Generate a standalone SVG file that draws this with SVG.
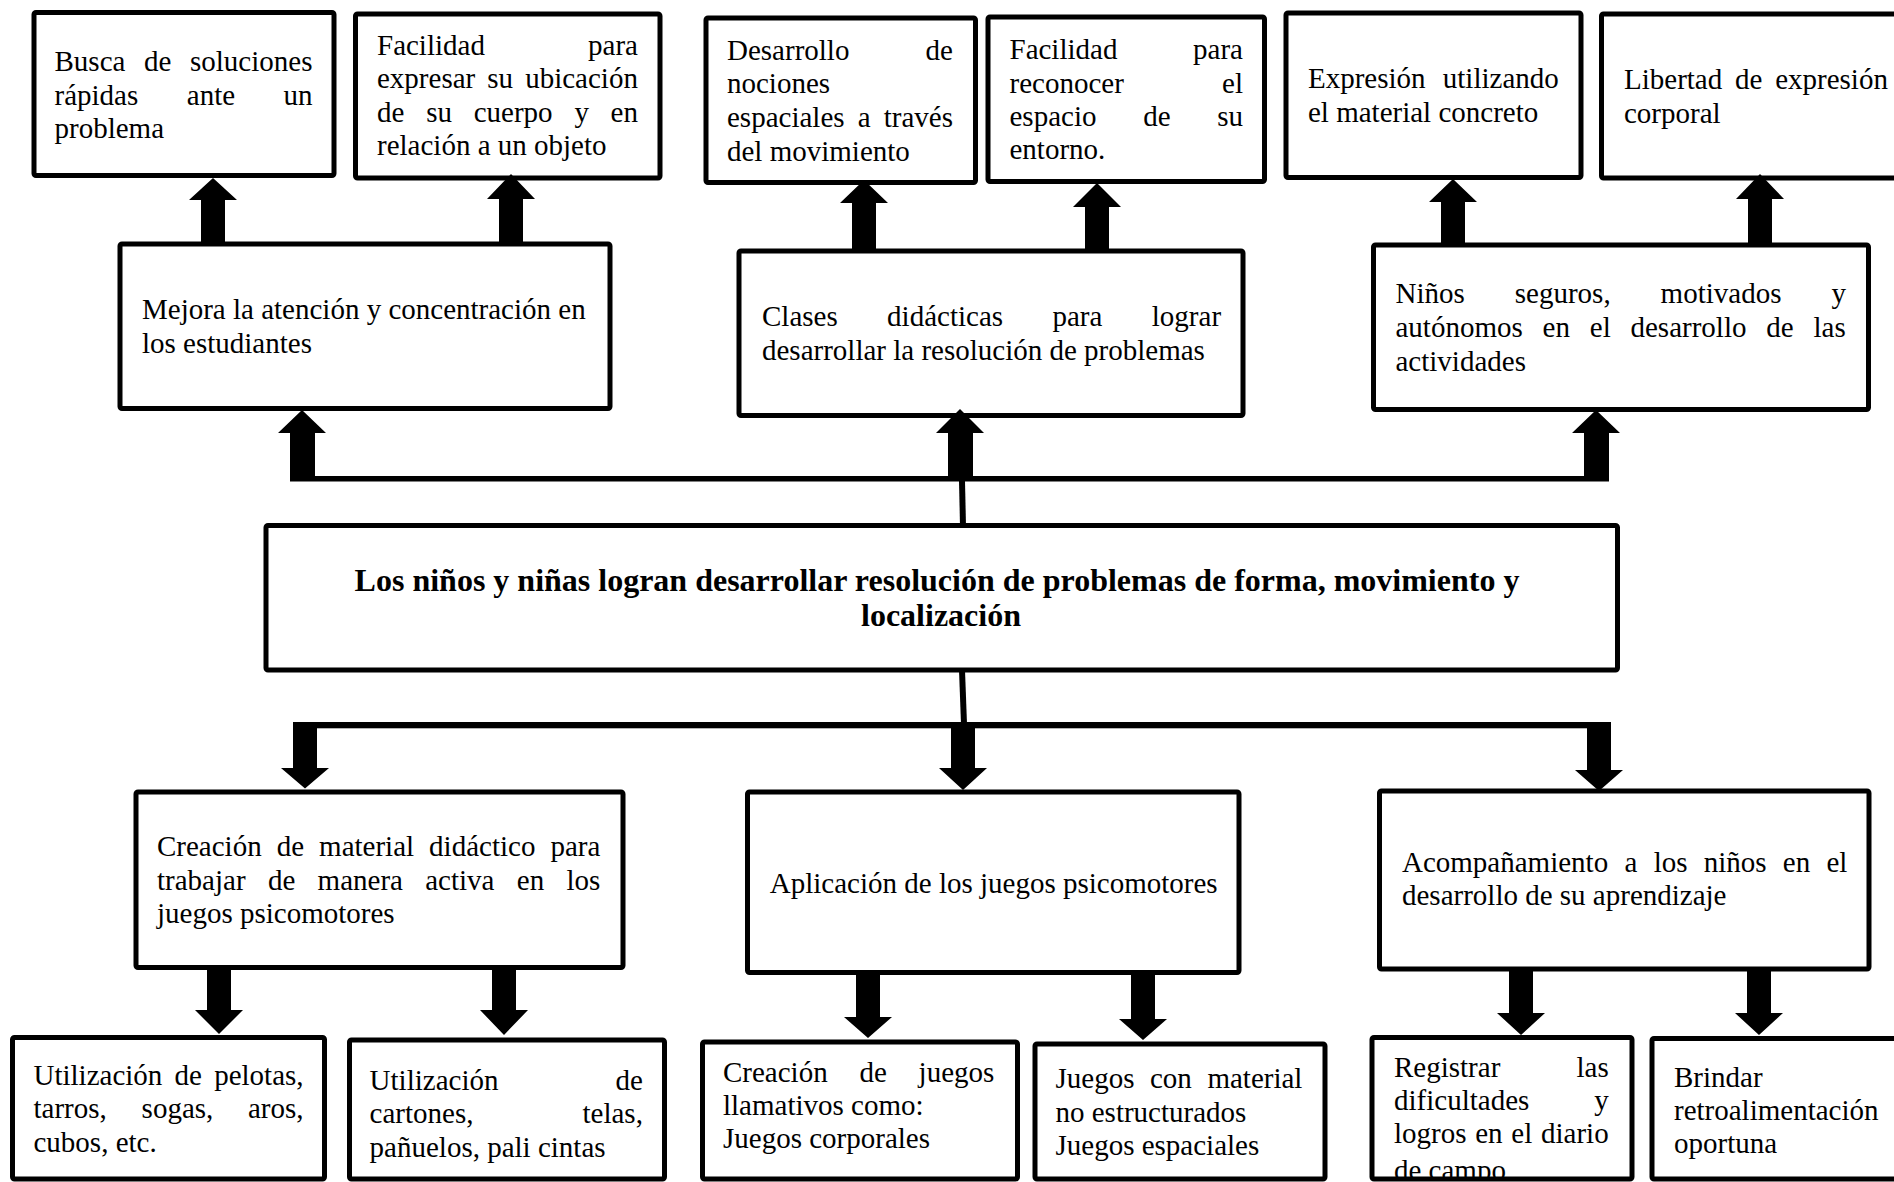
<svg xmlns="http://www.w3.org/2000/svg" width="1894" height="1182" viewBox="0 0 1894 1182">
<defs>
<style>
.box{fill:#fff;stroke:#000;stroke-width:5;stroke-linejoin:round}
.t{font-family:"Liberation Serif","Times New Roman",serif;font-size:29px;fill:#000}
.b{font-weight:bold;font-size:32px;text-anchor:middle}
.arr{fill:#000}
.thin{stroke:#000;stroke-width:6;fill:none}
</style>
<clipPath id="clipReg"><rect x="1374" y="1040" width="256" height="137"/></clipPath>
</defs>
<rect width="1894" height="1182" fill="#fff"/>

<g id="n1"><rect class="box" x="34" y="12.5" width="300" height="163" rx="2"/>
<text class="t"><tspan x="54.5" y="71">Busca</tspan><tspan x="144" y="71">de</tspan><tspan x="190" y="71">soluciones</tspan>
<tspan x="54.5" y="104.5">rápidas</tspan><tspan x="186.8" y="104.5">ante</tspan><tspan x="283.5" y="104.5">un</tspan>
<tspan x="54.5" y="138">problema</tspan></text></g>

<g id="n2"><rect class="box" x="355.5" y="14" width="304.5" height="164" rx="2"/>
<text class="t"><tspan x="377" y="55">Facilidad</tspan><tspan x="588.1" y="55">para</tspan>
<tspan x="377" y="88.3">expresar</tspan><tspan x="487.3" y="88.3">su</tspan><tspan x="525.2" y="88.3">ubicación</tspan>
<tspan x="377" y="121.7">de</tspan><tspan x="426.2" y="121.7">su</tspan><tspan x="473.7" y="121.7">cuerpo</tspan><tspan x="574.4" y="121.7">y</tspan><tspan x="610.6" y="121.7">en</tspan>
<tspan x="377" y="155">relación a un objeto</tspan></text></g>

<g id="n3"><rect class="box" x="706" y="18" width="269.5" height="164.5" rx="2"/>
<text class="t"><tspan x="727" y="60">Desarrollo</tspan><tspan x="925.6" y="60">de</tspan>
<tspan x="727" y="93.3">nociones</tspan>
<tspan x="727" y="127.3">espaciales</tspan><tspan x="857.7" y="127.3">a</tspan><tspan x="883.7" y="127.3">través</tspan>
<tspan x="727" y="160.7">del movimiento</tspan></text></g>

<g id="n4"><rect class="box" x="988" y="17" width="276.5" height="164.5" rx="2"/>
<text class="t"><tspan x="1009.5" y="59.3">Facilidad</tspan><tspan x="1193.1" y="59.3">para</tspan>
<tspan x="1009.5" y="92.7">reconocer</tspan><tspan x="1222.1" y="92.7">el</tspan>
<tspan x="1009.5" y="126">espacio</tspan><tspan x="1143.2" y="126">de</tspan><tspan x="1217.2" y="126">su</tspan>
<tspan x="1009.5" y="159.3">entorno.</tspan></text></g>

<g id="n5"><rect class="box" x="1286" y="13" width="295" height="164.5" rx="2"/>
<text class="t"><tspan x="1308" y="88.3">Expresión</tspan><tspan x="1442.8" y="88.3">utilizando</tspan>
<tspan x="1308" y="121.7">el material concreto</tspan></text></g>

<g id="n6"><rect class="box" x="1601.5" y="14" width="330" height="164" rx="2"/>
<text class="t"><tspan x="1624" y="89.3">Libertad</tspan><tspan x="1735" y="89.3">de</tspan><tspan x="1775.2" y="89.3">expresión</tspan>
<tspan x="1624" y="122.7">corporal</tspan></text></g>

<g id="n7"><rect class="box" x="120" y="244" width="490" height="164.5" rx="2"/>
<text class="t"><tspan x="142" y="319.3">Mejora la atención y concentración en</tspan>
<tspan x="142" y="353.3">los estudiantes</tspan></text></g>

<g id="n8"><rect class="box" x="739" y="251" width="504" height="164.5" rx="2"/>
<text class="t"><tspan x="762" y="326">Clases</tspan><tspan x="887.1" y="326">didácticas</tspan><tspan x="1052.5" y="326">para</tspan><tspan x="1151.8" y="326">lograr</tspan>
<tspan x="762" y="360">desarrollar la resolución de problemas</tspan></text></g>

<g id="n9"><rect class="box" x="1373.5" y="245" width="495" height="164.5" rx="2"/>
<text class="t"><tspan x="1395.5" y="303.3">Niños</tspan><tspan x="1514.8" y="303.3">seguros,</tspan><tspan x="1660.6" y="303.3">motivados</tspan><tspan x="1831.4" y="303.3">y</tspan>
<tspan x="1395.5" y="337.3">autónomos</tspan><tspan x="1542.6" y="337.3">en</tspan><tspan x="1589.8" y="337.3">el</tspan><tspan x="1630.5" y="337.3">desarrollo</tspan><tspan x="1766.3" y="337.3">de</tspan><tspan x="1813.5" y="337.3">las</tspan>
<tspan x="1395.5" y="370.7">actividades</tspan></text></g>

<g id="n0"><rect class="box" x="266" y="525.5" width="1351.5" height="144.5" rx="2"/>
<text class="t b"><tspan x="941" y="591">Los niños y niñas logran desarrollar resolución de problemas de forma, movimiento y</tspan>
<tspan x="941" y="626">localización</tspan></text></g>

<g id="n10"><rect class="box" x="136" y="792" width="487" height="175.5" rx="2"/>
<text class="t"><tspan x="157" y="856">Creación</tspan><tspan x="276.7" y="856">de</tspan><tspan x="319.1" y="856">material</tspan><tspan x="429.1" y="856">didáctico</tspan><tspan x="550.4" y="856">para</tspan>
<tspan x="157" y="890">trabajar</tspan><tspan x="267.9" y="890">de</tspan><tspan x="317.6" y="890">manera</tspan><tspan x="425.2" y="890">activa</tspan><tspan x="516.8" y="890">en</tspan><tspan x="566.5" y="890">los</tspan>
<tspan x="157" y="923.3">juegos psicomotores</tspan></text></g>

<g id="n11"><rect class="box" x="747.5" y="792" width="491.5" height="180.5" rx="2"/>
<text class="t"><tspan x="769.8" y="893.3">Aplicación de los juegos psicomotores</tspan></text></g>

<g id="n12"><rect class="box" x="1379.5" y="791" width="489.5" height="178" rx="2"/>
<text class="t"><tspan x="1402" y="871.7">Acompañamiento</tspan><tspan x="1624.5" y="871.7">a</tspan><tspan x="1653.7" y="871.7">los</tspan><tspan x="1703.7" y="871.7">niños</tspan><tspan x="1782.8" y="871.7">en</tspan><tspan x="1826.4" y="871.7">el</tspan>
<tspan x="1402" y="905">desarrollo de su aprendizaje</tspan></text></g>

<g id="n13"><rect class="box" x="12.5" y="1037.5" width="312" height="141.5" rx="2"/>
<text class="t"><tspan x="33.5" y="1085">Utilización</tspan><tspan x="174.6" y="1085">de</tspan><tspan x="214.2" y="1085">pelotas,</tspan>
<tspan x="33.5" y="1118.3">tarros,</tspan><tspan x="141.6" y="1118.3">sogas,</tspan><tspan x="248" y="1118.3">aros,</tspan>
<tspan x="33.5" y="1151.7">cubos, etc.</tspan></text></g>

<g id="n14"><rect class="box" x="349.5" y="1040" width="315" height="139" rx="2"/>
<text class="t"><tspan x="369.6" y="1090">Utilización</tspan><tspan x="615.5" y="1090">de</tspan>
<tspan x="369.6" y="1123.3">cartones,</tspan><tspan x="582.5" y="1123.3">telas,</tspan>
<tspan x="369.6" y="1156.7">pañuelos, pali cintas</tspan></text></g>

<g id="n15"><rect class="box" x="702.5" y="1042" width="315" height="137" rx="2"/>
<text class="t"><tspan x="723" y="1081.7">Creación</tspan><tspan x="859.5" y="1081.7">de</tspan><tspan x="918.6" y="1081.7">juegos</tspan>
<tspan x="723" y="1115">llamativos como:</tspan>
<tspan x="723" y="1148.3">Juegos corporales</tspan></text></g>

<g id="n16"><rect class="box" x="1035" y="1044" width="290" height="135" rx="2"/>
<text class="t"><tspan x="1055.5" y="1088.3">Juegos</tspan><tspan x="1150" y="1088.3">con</tspan><tspan x="1207.4" y="1088.3">material</tspan>
<tspan x="1055.5" y="1121.7">no estructurados</tspan>
<tspan x="1055.5" y="1155">Juegos espaciales</tspan></text></g>

<g id="n17"><rect class="box" x="1372" y="1037.5" width="260" height="141.5" rx="2"/>
<text class="t" clip-path="url(#clipReg)"><tspan x="1394" y="1076.7">Registrar</tspan><tspan x="1576.5" y="1076.7">las</tspan>
<tspan x="1394" y="1110">dificultades</tspan><tspan x="1594.2" y="1110">y</tspan>
<tspan x="1394" y="1143.3">logros</tspan><tspan x="1475.2" y="1143.3">en</tspan><tspan x="1511.3" y="1143.3">el</tspan><tspan x="1541" y="1143.3">diario</tspan>
<tspan x="1394" y="1180">de campo</tspan></text></g>

<g id="n18"><rect class="box" x="1652" y="1038.5" width="300" height="140.5" rx="2"/>
<text class="t"><tspan x="1674" y="1086.7">Brindar</tspan>
<tspan x="1674" y="1120">retroalimentación</tspan>
<tspan x="1674" y="1153.3">oportuna</tspan></text></g>

<g id="connectors">
<rect class="arr" x="290" y="476" width="1319" height="5.5"/>
<rect class="arr" x="293" y="722" width="1318" height="6.3"/>
<line class="thin" x1="962" y1="481" x2="963" y2="526"/>
<line class="thin" x1="962" y1="670" x2="964" y2="724"/>
<polygon class="arr" points="201,244 201,200 189,200 213,178 237,200 225,200 225,244"/>
<polygon class="arr" points="499,244 499,199 487,199 511,174 535,199 523,199 523,244"/>
<polygon class="arr" points="852,251 852,203 840,203 864,180 888,203 876,203 876,251"/>
<polygon class="arr" points="1085,251 1085,207 1073,207 1097,183 1121,207 1109,207 1109,251"/>
<polygon class="arr" points="1441,245 1441,202 1429,202 1453,179 1477,202 1465,202 1465,245"/>
<polygon class="arr" points="1748,245 1748,199 1736,199 1760,174 1784,199 1772,199 1772,245"/>
<polygon class="arr" points="290,481 290,433 278,433 302,410 326,433 315,433 315,481"/>
<polygon class="arr" points="948,479 948,433 936,433 960,409 984,433 973,433 973,479"/>
<polygon class="arr" points="1584,481 1584,433 1572,433 1596,410 1620,433 1609,433 1609,481"/>
<polygon class="arr" points="293,722 293,768 281,768 305,788.5 329,768 317,768 317,722"/>
<polygon class="arr" points="951,722 951,768 939,768 963,790 987,768 975,768 975,722"/>
<polygon class="arr" points="1587,722 1587,770 1575,770 1599,791 1623,770 1611,770 1611,722"/>
<polygon class="arr" points="207,968 207,1010 195,1010 219,1034 243,1010 231,1010 231,968"/>
<polygon class="arr" points="492,968 492,1010 480,1010 504,1035 528,1010 516,1010 516,968"/>
<polygon class="arr" points="856,973 856,1017 844,1017 868,1038 892,1017 880,1017 880,973"/>
<polygon class="arr" points="1131,973 1131,1019 1119,1019 1143,1040 1167,1019 1155,1019 1155,973"/>
<polygon class="arr" points="1509,969 1509,1013 1497,1013 1521,1035 1545,1013 1533,1013 1533,969"/>
<polygon class="arr" points="1747,969 1747,1013 1735,1013 1759,1035 1783,1013 1771,1013 1771,969"/>
</g>
</svg>
